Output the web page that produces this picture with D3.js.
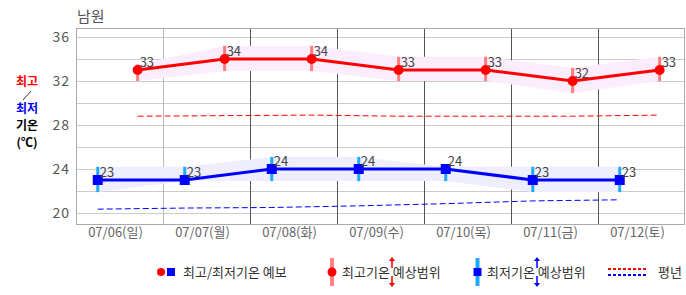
<!DOCTYPE html>
<html>
<head>
<meta charset="utf-8">
<script src="https://cdn.jsdelivr.net/npm/d3@7"></script>
<style>
  body { margin: 0; background: #fff; }
  svg { display: block; font-family: "Noto Sans CJK KR", "Noto Sans", sans-serif; }
</style>
</head>
<body>
<svg id="chart" width="686" height="295"></svg>
<script>
const city = "남원";
const days = ["07/06", "07/07", "07/08", "07/09", "07/10", "07/11", "07/12"];
const weekdays = ["일", "월", "화", "수", "목", "금", "토"];

const maxTemp = [33, 34, 34, 33, 33, 32, 33];
const maxLow  = [32, 32.9, 32.9, 32, 32, 30.9, 32];
const maxHigh = [33.5, 35.2, 35.2, 34.2, 34.2, 33.2, 34.2];

const minTemp = [23, 23, 24, 24, 24, 23, 23];
const minLow  = [21.9, 22.9, 22.9, 22.9, 22.9, 21.9, 21.9];
const minHigh = [24.2, 24.2, 25.1, 25.1, 24.2, 24.2, 24.2];

const normMax = [28.8, 28.85, 28.9, 28.8, 28.8, 28.8, 28.9];
const normMin = [20.35, 20.45, 20.5, 20.65, 20.85, 21.1, 21.2];

const yTicks = [20, 24, 28, 32, 36];
const minHour = 6.5, maxHour = 17.5;

const svg = d3.select("#chart");
const margin = {left: 76, right: 685, top: 28, bottom: 224};

const t0 = new Date(2025, 6, 6);
const dayDate = i => d3.timeDay.offset(t0, i);
const at = (i, h) => d3.timeHour.offset(dayDate(i), h);

const x = d3.scaleTime().domain([t0, dayDate(7)]).range([margin.left, margin.right]);
const y = d3.scaleLinear().domain([20, 36]).range([213, 37]);

const maxData = days.map((d, i) => ({t: at(i, maxHour), v: maxTemp[i], lo: maxLow[i], hi: maxHigh[i], n: normMax[i]}));
const minData = days.map((d, i) => ({t: at(i, minHour), v: minTemp[i], lo: minLow[i], hi: minHigh[i], n: normMin[i]}));

// grid
const grid = svg.append("g");
grid.selectAll(".hg")
  .data(d3.range(20, 37, 2))
  .join("line")
    .attr("x1", margin.left).attr("x2", margin.right)
    .attr("y1", d => y(d) + 0.5).attr("y2", d => y(d) + 0.5)
    .attr("stroke", "#cccccc");

grid.selectAll(".vg")
  .data(d3.range(1, 7))
  .join("line")
    .attr("x1", i => Math.round(x(dayDate(i))) + 0.5)
    .attr("x2", i => Math.round(x(dayDate(i))) + 0.5)
    .attr("y1", margin.top).attr("y2", margin.bottom)
    .attr("stroke", i => i === 1 ? "#bbbbbb" : "#555555");

svg.append("rect")
    .attr("x", margin.left + 0.5).attr("y", margin.top + 0.5)
    .attr("width", margin.right - margin.left - 1).attr("height", margin.bottom - margin.top)
    .attr("fill", "none").attr("stroke", "#aaaaaa");

// y labels
svg.append("g").selectAll("text")
  .data(yTicks)
  .join("text")
    .attr("x", 70).attr("y", d => y(d) + 5)
    .attr("text-anchor", "end")
    .attr("font-size", 14).attr("fill", "#555")
    .attr("letter-spacing", 1)
    .text(d => d);

// x labels
svg.append("g").selectAll("text")
  .data(days)
  .join("text")
    .attr("x", (d, i) => x(at(i, 12)) - 4).attr("y", 237)
    .attr("text-anchor", "middle")
    .attr("font-size", 13).attr("fill", "#666")
    .text((d, i) => d + "(" + weekdays[i] + ")");

// title
svg.append("text").attr("x", 77).attr("y", 22)
  .attr("font-size", 15).attr("fill", "#555").text(city);

// left label
const lab = svg.append("g").attr("font-size", 12).attr("font-weight", "bold").attr("text-anchor", "middle");
lab.append("text").attr("x", 27).attr("y", 86).attr("fill", "#ff0000").text("최고");
lab.append("line").attr("x1", 23).attr("y1", 100).attr("x2", 31).attr("y2", 91).attr("stroke", "#000").attr("stroke-width", 0.8);
lab.append("text").attr("x", 27).attr("y", 113).attr("fill", "#0000ff").text("최저");
lab.append("text").attr("x", 27).attr("y", 130).attr("fill", "#000").text("기온");
lab.append("text").attr("x", 27).attr("y", 147).attr("fill", "#000").text("(℃)");

// bands
const band = d3.area().x(d => x(d.t)).y0(d => y(d.lo)).y1(d => y(d.hi));
svg.append("path").datum(maxData).attr("d", band).attr("fill", "#fcedfc");
svg.append("path").datum(minData).attr("d", band).attr("fill", "#eeeefe");

// normals
const normLine = d3.line().x(d => x(d.t)).y(d => y(d.n));
svg.append("path").datum(maxData).attr("d", normLine)
  .attr("fill", "none").attr("stroke", "#ff0000").attr("stroke-width", 1).attr("stroke-dasharray", "6,3");
svg.append("path").datum(minData).attr("d", normLine)
  .attr("fill", "none").attr("stroke", "#0000ff").attr("stroke-width", 1).attr("stroke-dasharray", "6,3");

// range bars
svg.append("g").selectAll("rect")
  .data(maxData)
  .join("rect")
    .attr("x", d => x(d.t) - 1.5).attr("width", 3)
    .attr("y", d => y(d.hi)).attr("height", d => y(d.lo) - y(d.hi))
    .attr("fill", "#ff7d7d");
svg.append("g").selectAll("rect")
  .data(minData)
  .join("rect")
    .attr("x", d => x(d.t) - 1.5).attr("width", 3)
    .attr("y", d => y(d.hi)).attr("height", d => y(d.lo) - y(d.hi))
    .attr("fill", "#1eaaff");

// main lines
const valLine = d3.line().x(d => x(d.t)).y(d => y(d.v));
svg.append("path").datum(maxData).attr("d", valLine)
  .attr("fill", "none").attr("stroke", "#ff0000").attr("stroke-width", 3);
svg.append("path").datum(minData).attr("d", valLine)
  .attr("fill", "none").attr("stroke", "#0000ff").attr("stroke-width", 3);

svg.append("g").selectAll("circle")
  .data(maxData)
  .join("circle")
    .attr("cx", d => x(d.t)).attr("cy", d => y(d.v)).attr("r", 5)
    .attr("fill", "#ff0000");
svg.append("g").selectAll("rect")
  .data(minData)
  .join("rect")
    .attr("x", d => x(d.t) - 5).attr("y", d => y(d.v) - 5)
    .attr("width", 10).attr("height", 10)
    .attr("fill", "#0000ff");

// value labels
svg.append("g").selectAll("text")
  .data(maxData.concat(minData))
  .join("text")
    .attr("x", d => x(d.t) + 2).attr("y", d => y(d.v) - 3)
    .attr("font-size", 13).attr("fill", "#444")
    .text(d => d.v);

// legend
const lg = svg.append("g").attr("font-size", 13).attr("fill", "#333");
lg.append("circle").attr("cx", 161).attr("cy", 272).attr("r", 4).attr("fill", "#ff0000");
lg.append("rect").attr("x", 167).attr("y", 268).attr("width", 8).attr("height", 8).attr("fill", "#0000ff");
lg.append("text").attr("x", 183).attr("y", 277).text("최고/최저기온 예보");

lg.append("rect").attr("x", 330).attr("y", 258).attr("width", 4).attr("height", 28).attr("fill", "#ff8080");
lg.append("circle").attr("cx", 332).attr("cy", 272).attr("r", 4.5).attr("fill", "#ff0000");
lg.append("text").attr("x", 342).attr("y", 277).text("최고기온 예상범위");

lg.append("rect").attr("x", 475.5).attr("y", 258).attr("width", 4).attr("height", 28).attr("fill", "#1eaaff");
lg.append("rect").attr("x", 473.5).attr("y", 268).attr("width", 8).attr("height", 8).attr("fill", "#0000ff");
lg.append("text").attr("x", 487).attr("y", 277).text("최저기온 예상범위");

function arrows(cx, color) {
  const a = lg.append("g").attr("fill", color).attr("stroke", color);
  a.append("line").attr("x1", cx).attr("x2", cx).attr("y1", 260).attr("y2", 268).attr("stroke-width", 1.5);
  a.append("path").attr("d", `M${cx - 3},${261} L${cx},${257} L${cx + 3},${261} Z`).attr("stroke", "none");
  a.append("line").attr("x1", cx).attr("x2", cx).attr("y1", 276).attr("y2", 284).attr("stroke-width", 1.5);
  a.append("path").attr("d", `M${cx - 3},${283} L${cx},${287} L${cx + 3},${283} Z`).attr("stroke", "none");
}
arrows(392, "#ff0000");
arrows(537, "#0000ff");

lg.append("line").attr("x1", 608).attr("x2", 648).attr("y1", 269).attr("y2", 269)
  .attr("stroke", "#ff0000").attr("stroke-width", 2).attr("stroke-dasharray", "3,2");
lg.append("line").attr("x1", 608).attr("x2", 648).attr("y1", 275).attr("y2", 275)
  .attr("stroke", "#0000ff").attr("stroke-width", 2).attr("stroke-dasharray", "3,2");
lg.append("text").attr("x", 658).attr("y", 277).text("평년");
</script>
</body>
</html>
